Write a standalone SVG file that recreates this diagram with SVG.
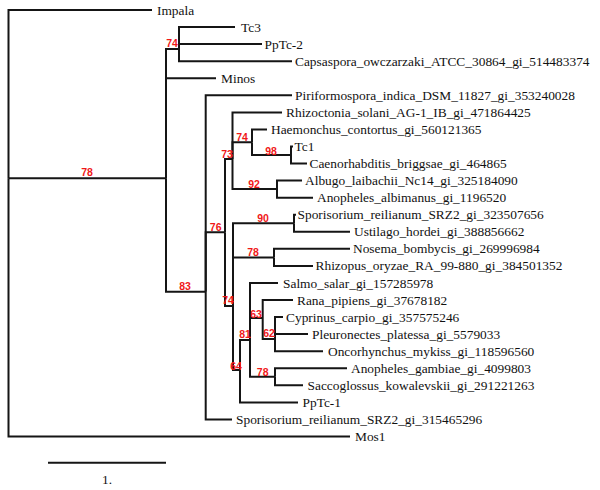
<svg xmlns="http://www.w3.org/2000/svg" width="600" height="490" viewBox="0 0 600 490">
<style>
.e{fill:none;stroke:#151515;stroke-width:2;stroke-linejoin:miter;stroke-linecap:butt}
.t{font-family:"Liberation Serif","Times New Roman",serif;font-size:13.4px;fill:#111}
.b{font-family:"Liberation Sans",Arial,sans-serif;font-size:10.5px;font-weight:bold;fill:#f01818;text-anchor:middle}
</style>
<rect width="600" height="490" fill="#fff"/>
<g id="connectors">
<path class="e" d="M8.5,178.3 V10 H152"/>
<path class="e" d="M8.5,178.3 H166"/>
<path class="e" d="M8.5,178.3 V436.5 H350"/>
<path class="e" d="M166,178.3 V49 H179"/>
<path class="e" d="M166,178.3 V78.2 H216"/>
<path class="e" d="M166,178.3 V291.7 H205.7"/>
<path class="e" d="M179,49 V27.1 H235"/>
<path class="e" d="M179,49 V44.1 H262"/>
<path class="e" d="M179,49 V61.2 H292"/>
<path class="e" d="M205.7,291.7 V95.3 H292"/>
<path class="e" d="M205.7,291.7 V232.3 H225"/>
<path class="e" d="M205.7,291.7 V419.4 H232"/>
<path class="e" d="M225,232.3 V159 H232.5"/>
<path class="e" d="M225,232.3 V306 H233"/>
<path class="e" d="M232.5,159 V112.4 H282"/>
<path class="e" d="M232.5,159 V142.2 H252"/>
<path class="e" d="M232.5,159 V189.1 H277"/>
<path class="e" d="M252,142.2 V129.4 H267"/>
<path class="e" d="M252,142.2 V155 H291"/>
<path class="e" d="M291,155 V146.5 H293"/>
<path class="e" d="M291,155 V163.5 H307"/>
<path class="e" d="M277,189.1 V180.6 H302"/>
<path class="e" d="M277,189.1 V197.7 H313"/>
<path class="e" d="M233,306 V223.3 H294"/>
<path class="e" d="M233,306 V257.4 H274"/>
<path class="e" d="M233,306 V370 H240"/>
<path class="e" d="M294,223.3 V214.7 H296"/>
<path class="e" d="M294,223.3 V231.8 H350"/>
<path class="e" d="M274,257.4 V248.8 H350"/>
<path class="e" d="M274,257.4 V265.9 H313"/>
<path class="e" d="M240,370 V340 H250"/>
<path class="e" d="M240,370 V402.4 H298"/>
<path class="e" d="M250,340 V283 H278"/>
<path class="e" d="M250,340 V318 H262.7"/>
<path class="e" d="M250,340 V376.8 H275"/>
<path class="e" d="M262.7,318 V300 H293"/>
<path class="e" d="M262.7,318 V339 H275"/>
<path class="e" d="M275,339 V317.1 H283"/>
<path class="e" d="M275,339 V334.1 H308"/>
<path class="e" d="M275,339 V351.2 H323"/>
<path class="e" d="M275,376.8 V368.3 H347"/>
<path class="e" d="M275,376.8 V385.3 H303"/>
</g>
<g id="n-root"><text class="b" x="87" y="176.1">78</text></g>
<g id="n-tc3clade"><text class="b" x="172" y="47.1">74</text></g>
<g id="n-83"><text class="b" x="185" y="289.5">83</text></g>
<g id="n-76"><text class="b" x="215.7" y="230.8">76</text></g>
<g id="n-73"><text class="b" x="227" y="157.8">73</text></g>
<g id="n-74a"><text class="b" x="242" y="140.8">74</text></g>
<g id="n-98"><text class="b" x="271" y="154.5">98</text></g>
<g id="n-92"><text class="b" x="254" y="188">92</text></g>
<g id="n-74b"><text class="b" x="228" y="304.3">74</text></g>
<g id="n-90"><text class="b" x="263" y="221.8">90</text></g>
<g id="n-78a"><text class="b" x="253" y="255.8">78</text></g>
<g id="n-64"><text class="b" x="236" y="369.8">64</text></g>
<g id="n-81"><text class="b" x="245" y="337.8">81</text></g>
<g id="n-63"><text class="b" x="256" y="317.8">63</text></g>
<g id="n-62"><text class="b" x="269" y="336.8">62</text></g>
<g id="n-78b"><text class="b" x="262.7" y="375.8">78</text></g>
<g id="leaf-1"><text class="t" x="157" y="14.5">Impala</text></g>
<g id="leaf-2"><text class="t" x="241" y="31.6">Tc3</text></g>
<g id="leaf-3"><text class="t" x="264.5" y="48.6">PpTc-2</text></g>
<g id="leaf-4"><text class="t" x="295" y="65.7">Capsaspora_owczarzaki_ATCC_30864_gi_514483374</text></g>
<g id="leaf-5"><text class="t" x="221" y="82.7">Minos</text></g>
<g id="leaf-6"><text class="t" x="295" y="99.8">Piriformospora_indica_DSM_11827_gi_353240028</text></g>
<g id="leaf-7"><text class="t" x="286" y="116.9">Rhizoctonia_solani_AG-1_IB_gi_471864425</text></g>
<g id="leaf-8"><text class="t" x="271" y="133.9">Haemonchus_contortus_gi_560121365</text></g>
<g id="leaf-9"><text class="t" x="294.5" y="151">Tc1</text></g>
<g id="leaf-10"><text class="t" x="309.5" y="168">Caenorhabditis_briggsae_gi_464865</text></g>
<g id="leaf-11"><text class="t" x="305" y="185.1">Albugo_laibachii_Nc14_gi_325184090</text></g>
<g id="leaf-12"><text class="t" x="317" y="202.2">Anopheles_albimanus_gi_1196520</text></g>
<g id="leaf-13"><text class="t" x="297.5" y="219.2">Sporisorium_reilianum_SRZ2_gi_323507656</text></g>
<g id="leaf-14"><text class="t" x="354" y="236.3">Ustilago_hordei_gi_388856662</text></g>
<g id="leaf-15"><text class="t" x="353" y="253.3">Nosema_bombycis_gi_269996984</text></g>
<g id="leaf-16"><text class="t" x="315.5" y="270.4">Rhizopus_oryzae_RA_99-880_gi_384501352</text></g>
<g id="leaf-17"><text class="t" x="283" y="287.5">Salmo_salar_gi_157285978</text></g>
<g id="leaf-18"><text class="t" x="297" y="304.5">Rana_pipiens_gi_37678182</text></g>
<g id="leaf-19"><text class="t" x="286" y="321.6">Cyprinus_carpio_gi_357575246</text></g>
<g id="leaf-20"><text class="t" x="312" y="338.6">Pleuronectes_platessa_gi_5579033</text></g>
<g id="leaf-21"><text class="t" x="328" y="355.7">Oncorhynchus_mykiss_gi_118596560</text></g>
<g id="leaf-22"><text class="t" x="351" y="372.8">Anopheles_gambiae_gi_4099803</text></g>
<g id="leaf-23"><text class="t" x="307.5" y="389.8">Saccoglossus_kowalevskii_gi_291221263</text></g>
<g id="leaf-24"><text class="t" x="302.5" y="406.9">PpTc-1</text></g>
<g id="leaf-25"><text class="t" x="236" y="423.9">Sporisorium_reilianum_SRZ2_gi_315465296</text></g>
<g id="leaf-26"><text class="t" x="355" y="441">Mos1</text></g>
<g id="scalebar">
<path class="e" d="M48,462.7 H166"/>
<text class="t" x="107" y="484" text-anchor="middle">1.</text>
</g>
</svg>
